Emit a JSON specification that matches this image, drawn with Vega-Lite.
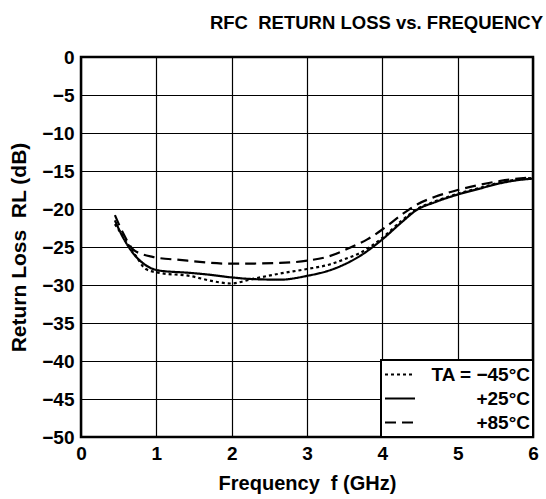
{
  "$schema": "https://vega.github.io/schema/vega-lite/v6.json",
  "width": 452,
  "height": 380,
  "autosize": {"type": "none"},
  "padding": {"left": 81, "top": 57, "right": 13, "bottom": 62},
  "background": "white",
  "title": {
    "text": "RFC\u00a0 RETURN LOSS vs. FREQUENCY",
    "anchor": "end",
    "frame": "group",
    "font": "Liberation Sans",
    "fontSize": 18.5,
    "fontWeight": "bold",
    "color": "black",
    "offset": 16,
    "dx": 10
  },
  "data": {
    "values": [
      {"f": 0.45, "rl": -22.0, "t": "TA = −45°C"},
      {"f": 0.55, "rl": -23.5, "t": "TA = −45°C"},
      {"f": 0.73, "rl": -26.2, "t": "TA = −45°C"},
      {"f": 0.86, "rl": -27.9, "t": "TA = −45°C"},
      {"f": 1.04, "rl": -28.4, "t": "TA = −45°C"},
      {"f": 1.44, "rl": -28.8, "t": "TA = −45°C"},
      {"f": 1.75, "rl": -29.5, "t": "TA = −45°C"},
      {"f": 1.99, "rl": -29.8, "t": "TA = −45°C"},
      {"f": 2.28, "rl": -29.2, "t": "TA = −45°C"},
      {"f": 2.64, "rl": -28.5, "t": "TA = −45°C"},
      {"f": 3.0, "rl": -27.9, "t": "TA = −45°C"},
      {"f": 3.3, "rl": -27.3, "t": "TA = −45°C"},
      {"f": 3.5, "rl": -26.6, "t": "TA = −45°C"},
      {"f": 3.7, "rl": -25.8, "t": "TA = −45°C"},
      {"f": 4.0, "rl": -23.8, "t": "TA = −45°C"},
      {"f": 4.25, "rl": -21.6, "t": "TA = −45°C"},
      {"f": 4.46, "rl": -20.0, "t": "TA = −45°C"},
      {"f": 4.7, "rl": -19.0, "t": "TA = −45°C"},
      {"f": 5.0, "rl": -18.0, "t": "TA = −45°C"},
      {"f": 5.3, "rl": -17.2, "t": "TA = −45°C"},
      {"f": 5.57, "rl": -16.5, "t": "TA = −45°C"},
      {"f": 5.8, "rl": -16.1, "t": "TA = −45°C"},
      {"f": 6.0, "rl": -15.9, "t": "TA = −45°C"},

      {"f": 0.45, "rl": -21.5, "t": "+25°C"},
      {"f": 0.55, "rl": -23.6, "t": "+25°C"},
      {"f": 0.69, "rl": -25.8, "t": "+25°C"},
      {"f": 0.86, "rl": -27.4, "t": "+25°C"},
      {"f": 1.04, "rl": -28.1, "t": "+25°C"},
      {"f": 1.44, "rl": -28.4, "t": "+25°C"},
      {"f": 1.66, "rl": -28.6, "t": "+25°C"},
      {"f": 2.0, "rl": -29.0, "t": "+25°C"},
      {"f": 2.24, "rl": -29.2, "t": "+25°C"},
      {"f": 2.64, "rl": -29.3, "t": "+25°C"},
      {"f": 3.0, "rl": -28.8, "t": "+25°C"},
      {"f": 3.35, "rl": -27.9, "t": "+25°C"},
      {"f": 3.7, "rl": -26.2, "t": "+25°C"},
      {"f": 4.0, "rl": -24.0, "t": "+25°C"},
      {"f": 4.25, "rl": -21.8, "t": "+25°C"},
      {"f": 4.46, "rl": -20.1, "t": "+25°C"},
      {"f": 4.7, "rl": -19.1, "t": "+25°C"},
      {"f": 5.0, "rl": -18.1, "t": "+25°C"},
      {"f": 5.3, "rl": -17.3, "t": "+25°C"},
      {"f": 5.57, "rl": -16.6, "t": "+25°C"},
      {"f": 5.8, "rl": -16.2, "t": "+25°C"},
      {"f": 6.0, "rl": -16.0, "t": "+25°C"},

      {"f": 0.45, "rl": -20.8, "t": "+85°C"},
      {"f": 0.55, "rl": -23.0, "t": "+85°C"},
      {"f": 0.69, "rl": -25.3, "t": "+85°C"},
      {"f": 0.8, "rl": -25.9, "t": "+85°C"},
      {"f": 0.95, "rl": -26.3, "t": "+85°C"},
      {"f": 1.31, "rl": -26.7, "t": "+85°C"},
      {"f": 2.0, "rl": -27.2, "t": "+85°C"},
      {"f": 2.64, "rl": -27.1, "t": "+85°C"},
      {"f": 3.0, "rl": -26.8, "t": "+85°C"},
      {"f": 3.3, "rl": -26.2, "t": "+85°C"},
      {"f": 3.57, "rl": -25.1, "t": "+85°C"},
      {"f": 3.8, "rl": -24.0, "t": "+85°C"},
      {"f": 4.0, "rl": -22.7, "t": "+85°C"},
      {"f": 4.25, "rl": -20.8, "t": "+85°C"},
      {"f": 4.46, "rl": -19.4, "t": "+85°C"},
      {"f": 4.7, "rl": -18.4, "t": "+85°C"},
      {"f": 5.0, "rl": -17.5, "t": "+85°C"},
      {"f": 5.3, "rl": -16.8, "t": "+85°C"},
      {"f": 5.57, "rl": -16.3, "t": "+85°C"},
      {"f": 5.8, "rl": -16.0, "t": "+85°C"},
      {"f": 6.0, "rl": -15.8, "t": "+85°C"}
    ]
  },
  "mark": {"type": "line", "interpolate": "monotone", "color": "black", "strokeWidth": 2.2},
  "encoding": {
    "x": {
      "field": "f",
      "type": "quantitative",
      "scale": {"domain": [0, 6], "nice": false, "zero": false},
      "axis": {
        "values": [0, 1, 2, 3, 4, 5, 6],
        "title": "Frequency\u00a0 f (GHz)",
        "titleFontSize": 20,
        "format": "d",
        "labelPadding": 7,
        "titlePadding": 10
      }
    },
    "y": {
      "field": "rl",
      "type": "quantitative",
      "scale": {"domain": [-50, 0], "nice": false, "zero": false},
      "axis": {
        "values": [-50, -45, -40, -35, -30, -25, -20, -15, -10, -5, 0],
        "title": "Return Loss\u00a0 RL (dB)",
        "titleFontSize": 21,
        "format": "d",
        "labelPadding": 7,
        "titlePadding": 12
      }
    },
    "strokeDash": {
      "field": "t",
      "type": "nominal",
      "scale": {
        "domain": ["TA = −45°C", "+25°C", "+85°C"],
        "range": [[3, 3], [1, 0], [11, 6]]
      },
      "legend": {
        "title": null,
        "orient": "bottom-right",
        "offset": 0
      }
    }
  },
  "config": {
    "font": "Liberation Sans",
    "view": {"stroke": "black", "strokeWidth": 2.5},
    "axis": {
      "grid": true,
      "gridColor": "black",
      "gridOpacity": 1,
      "gridWidth": 1.2,
      "domain": false,
      "ticks": false,
      "labelFont": "Liberation Sans",
      "labelFontSize": 19,
      "labelFontWeight": "bold",
      "labelColor": "black",
      "labelFlush": false,
      "labelOverlap": false,
      "titleFont": "Liberation Sans",
      "titleFontWeight": "bold",
      "titleColor": "black"
    },
    "legend": {
      "padding": 3,
      "strokeColor": "black",
      "strokeWidth": 2,
      "fillColor": "white",
      "symbolType": "stroke",
      "symbolSize": 900,
      "symbolStrokeWidth": 2,
      "symbolStrokeColor": "black",
      "clipHeight": 23,
      "labelFont": "Liberation Sans",
      "labelFontSize": 19,
      "labelFontWeight": "bold",
      "labelColor": "black",
      "labelAlign": "right",
      "labelOffset": 114,
      "labelLimit": 0,
      "rowPadding": 1
    }
  }
}
